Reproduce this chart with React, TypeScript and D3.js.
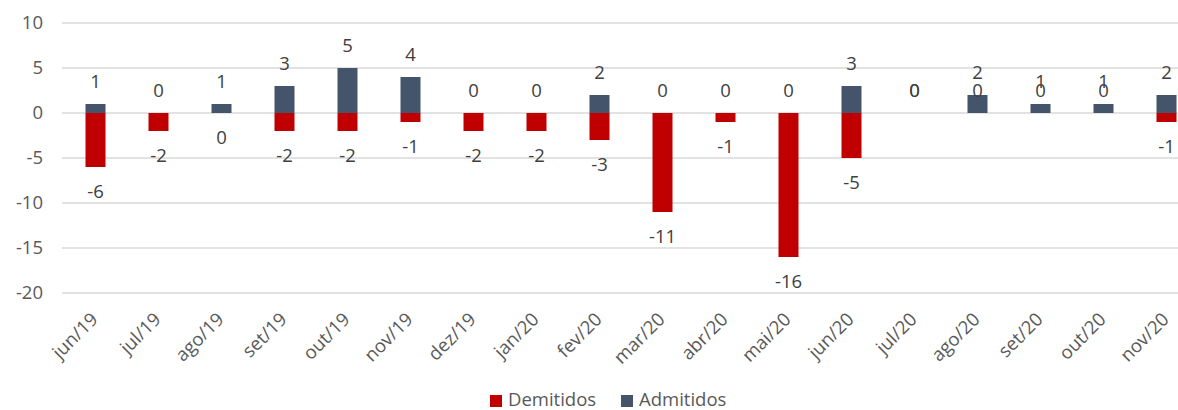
import React from "react";
import * as d3 from "d3";

const months = ["jun/19","jul/19","ago/19","set/19","out/19","nov/19","dez/19","jan/20","fev/20","mar/20","abr/20","mai/20","jun/20","jul/20","ago/20","set/20","out/20","nov/20"];
const admitidos = [1,0,1,3,5,4,0,0,2,0,0,0,3,0,2,1,1,2];
const demitidos = [-6,-2,0,-2,-2,-1,-2,-2,-3,-11,-1,-16,-5,0,0,0,0,-1];
// Data labels of Demitidos drawn above the axis (as in the source chart)
const demLabelAbove = [false,false,false,false,false,false,false,false,false,false,false,false,false,true,true,true,true,false];
const yTicks = [10,5,0,-5,-10,-15,-20];

const W = 1178, H = 410;
const RED = "#C00000", BLUE = "#44546A", TXT = "#595959", GRID = "#D9D9D9";
const FONT = "'Open Sans', sans-serif";

export default function App() {
  const x = d3.scaleBand<string>().domain(months).range([64, 64 + 18 * 63]).padding(0);
  const y = d3.scaleLinear().domain([-20, 10]).range([293, 23]);
  const bw = x.bandwidth();
  const barW = 20;
  const cx = (m: string) => (x(m) as number) + bw / 2;
  const fs = 18.5;
  return (
    <svg width={W} height={H} style={{ position: "absolute", left: 0, top: 0, background: "#fff" }} fontFamily={FONT}>
      {yTicks.map((t) => (
        <g key={t}>
          <line x1={62} x2={W} y1={y(t)} y2={y(t)} stroke={GRID} strokeWidth={1.5} />
          <text x={43} y={y(t)} dy="0.35em" textAnchor="end" fontSize={fs} fill={TXT}>{t}</text>
        </g>
      ))}
      {months.map((m, i) => {
        const v = demitidos[i];
        return (
          <rect key={"d" + m} x={cx(m) - barW / 2} y={y(Math.max(0, v))} width={barW} height={Math.abs(y(v) - y(0))} fill={RED} />
        );
      })}
      {months.map((m, i) => {
        const v = admitidos[i];
        return (
          <rect key={"a" + m} x={cx(m) - barW / 2} y={y(Math.max(0, v))} width={barW} height={Math.abs(y(v) - y(0))} fill={BLUE} />
        );
      })}
      {months.map((m, i) => (
        <text key={"la" + m} x={cx(m)} y={y(admitidos[i]) - 22} dy="0.35em" textAnchor="middle" fontSize={fs} fill="#404040">{admitidos[i]}</text>
      ))}
      {months.map((m, i) => (
        <text key={"ld" + m} x={cx(m)} y={demLabelAbove[i] ? y(0) - 22 : y(demitidos[i]) + 25} dy="0.35em" textAnchor="middle" fontSize={fs} fill="#404040">{demitidos[i]}</text>
      ))}
      {months.map((m) => (
        <text key={"x" + m} transform={`translate(${cx(m) - 1},${316}) rotate(-45)`} dy="0.35em" textAnchor="end" fontSize={fs} fill={TXT}>{m}</text>
      ))}
      <g>
        <rect x={490} y={395} width={12} height={12} fill={RED} />
        <text x={508} y={400} dy="0.35em" fontSize={fs} fill={TXT}>Demitidos</text>
        <rect x={621} y={395} width={12} height={12} fill={BLUE} />
        <text x={639} y={400} dy="0.35em" fontSize={fs} fill={TXT}>Admitidos</text>
      </g>
    </svg>
  );
}
